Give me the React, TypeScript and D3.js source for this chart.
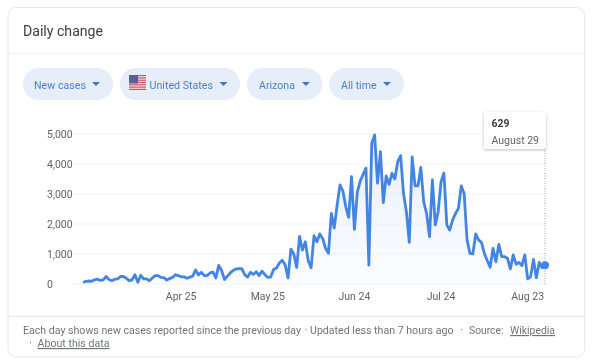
import React from "react";
import * as d3 from "d3";

const startDate = "2020-03-22";
const dailyCases = [
  50, 90, 100, 90, 140, 160, 120, 140, 250, 150, 110, 160, 170, 250, 250, 190, 110, 140, 310, 60,
  290, 170, 170, 110, 200, 280, 280, 220, 210, 130, 180, 220, 310, 280, 240, 240, 190, 230, 260, 470,
  300, 390, 280, 280, 370, 400, 200, 620, 450, 150, 260, 370, 450, 500, 510, 510, 310, 230, 390, 320,
  410, 280, 430, 310, 220, 230, 480, 530, 700, 790, 640, 200, 1160, 1000, 550, 1590, 1130, 1410, 770, 540,
  1610, 1410, 1670, 1520, 1190, 1020, 2350, 1860, 2630, 3300, 3100, 2580, 2220, 3580, 1820, 3060, 3430, 3650, 3860, 630,
  4690, 4970, 3360, 4410, 2710, 3600, 3320, 3690, 3500, 4080, 4280, 3020, 2410, 1390, 4240, 3270, 3270, 3890, 2740, 2350,
  1580, 3470, 1970, 2410, 3410, 3700, 1970, 1800, 2130, 2350, 2520, 3270, 3020, 1470, 1020, 1000, 1670, 1470, 1390, 1020,
  780, 560, 1190, 740, 1320, 910, 910, 860, 500, 970, 660, 720, 610, 970, 170, 240, 820, 210, 720, 540,
  629,
];
const yTicks = [0, 1000, 2000, 3000, 4000, 5000];
const xTickDates = ["2020-04-25", "2020-05-25", "2020-06-24", "2020-07-24", "2020-08-23"];
const chips = ["New cases", "United States", "Arizona", "All time"];
const chipLefts = [23, 120, 247, 329];
const chipRights = [113, 240, 322, 404];
const chipTextLeft = [34, 149.5, 259, 341];
const chipTextWidth = [52, 63.5, 36, 35.5];
const chipCaret = [96, 223.5, 306, 387];
const tooltipValue = "629";
const tooltipDate = "August 29";

const FONT = "Roboto, Arial, sans-serif";
const day = (s: string) => new Date(s + "T00:00:00Z");
const start = day(startDate);
const dates = dailyCases.map((_, i) => d3.utcDay.offset(start, i));
const x = d3.scaleUtc().domain([start, dates[dates.length - 1]]).range([83, 545]);
const y = d3.scaleLinear().domain([0, 5000]).range([284, 134]);
const pts = dailyCases.map((v, i) => ({ d: dates[i], v }));
const line = d3.line<any>().x((p) => x(p.d)).y((p) => y(p.v));
const area = d3.area<any>().x((p) => x(p.d)).y0(284).y1((p) => y(p.v));
const fmt = d3.format(",");
const tickFmt = d3.utcFormat("%b %-d");

function Flag({ px, py }: { px: number; py: number }) {
  const stripes = d3.range(7);
  return (
    <g>
      <rect x={px} y={py} width={17} height={16} fill="#f4eef0" rx={1} />
      {stripes.map((s) => (
        <rect key={s} x={px} y={py + s * 2.3} width={17} height={1.2} fill="#c8505f" />
      ))}
      <rect x={px} y={py} width={9} height={8.5} fill="#5a5f95" />
    </g>
  );
}

function Fit({ x, y, w, children, ...rest }: any) {
  return (
    <text x={x} y={y} textLength={w} lengthAdjust="spacingAndGlyphs" {...rest}>
      {children}
    </text>
  );
}

export default function App() {
  const last = pts[pts.length - 1];
  return (
    <svg
      width={600}
      height={364}
      style={{ position: "absolute", left: 0, top: 0, fontFamily: FONT, filter: "blur(0.35px)" }}
    >
      <defs>
        <linearGradient id="fill" x1="0" y1="0" x2="0" y2="1">
          <stop offset="0" stopColor="#dbe7fb" stopOpacity={0.75} />
          <stop offset="1" stopColor="#eef4fe" stopOpacity={0.25} />
        </linearGradient>
        <filter id="shadow" x="-20%" y="-20%" width="140%" height="150%">
          <feDropShadow dx="0" dy="1" stdDeviation="1.5" floodColor="#000" floodOpacity="0.25" />
        </filter>
      </defs>
      <rect width={600} height={364} fill="#fff" />
      <rect x={8} y={7.5} width={576.5} height={349.5} rx={8} fill="#fff" stroke="#e6e8ea" />
      <Fit x={23} y={36} w={80} fontSize={14.5} fill="#3c4043">Daily change</Fit>
      <line x1={8} x2={584} y1={53.5} y2={53.5} stroke="#eceef0" />

      {chips.map((c, i) => {
        const l = chipLefts[i];
        const r = chipRights[i];
        return (
          <g key={c}>
            <rect x={l} y={68} width={r - l} height={32} rx={16} fill="#e6eefa" />
            {i === 1 && <Flag px={l + 9} py={75} />}
            <Fit x={chipTextLeft[i]} y={88.5} w={chipTextWidth[i]} fontSize={11.5} fill="#4a7fd4">{c}</Fit>
            <path d={`M${chipCaret[i] - 4},82 h8 l-4,4 z`} fill="#3f76cf" />
          </g>
        );
      })}

      {yTicks.map((t) => (
        <g key={t}>
          <line x1={73} x2={545} y1={y(t)} y2={y(t)} stroke="#f1f3f4" />
          <text x={47} y={y(t) + 4} fontSize={10.5} fill="#5f6368">{fmt(t)}</text>
        </g>
      ))}
      {xTickDates.map((t) => (
        <text key={t} x={x(day(t))} y={300} fontSize={10.5} fill="#5f6368" textAnchor="middle">
          {tickFmt(day(t))}
        </text>
      ))}

      <path d={area(pts) as string} fill="url(#fill)" />
      <line x1={545} x2={545} y1={148} y2={284} stroke="#9aa0a6" strokeWidth={1} strokeDasharray="1 1.5" />
      <path d={line(pts) as string} fill="none" stroke="#4285e4" strokeWidth={2.8} strokeLinejoin="round" />
      <circle cx={x(last.d)} cy={y(last.v)} r={4} fill="#4285e4" />

      <rect x={484} y={112} width={62} height={37} rx={2} fill="#fff" filter="url(#shadow)" />
      <text x={491.5} y={126.5} fontSize={10.5} fontWeight={700} fill="#3c4043">{tooltipValue}</text>
      <Fit x={491.5} y={144} w={47.5} fontSize={11} fill="#5f6368">{tooltipDate}</Fit>

      <line x1={8} x2={584} y1={316.5} y2={316.5} stroke="#e6e8ea" />
      <g fontSize={11.5} fill="#70757a">
        <Fit x={23} y={334} w={278}>Each day shows new cases reported since the previous day</Fit>
        <text x={304.5} y={334}>·</text>
        <Fit x={310} y={334} w={143.5}>Updated less than 7 hours ago</Fit>
        <text x={460} y={334}>·</text>
        <Fit x={469} y={334} w={34.5}>Source:</Fit>
        <Fit x={510} y={334} w={45} textDecoration="underline">Wikipedia</Fit>
        <text x={29} y={347}>·</text>
        <Fit x={37.5} y={347} w={72} textDecoration="underline">About this data</Fit>
      </g>
    </svg>
  );
}
